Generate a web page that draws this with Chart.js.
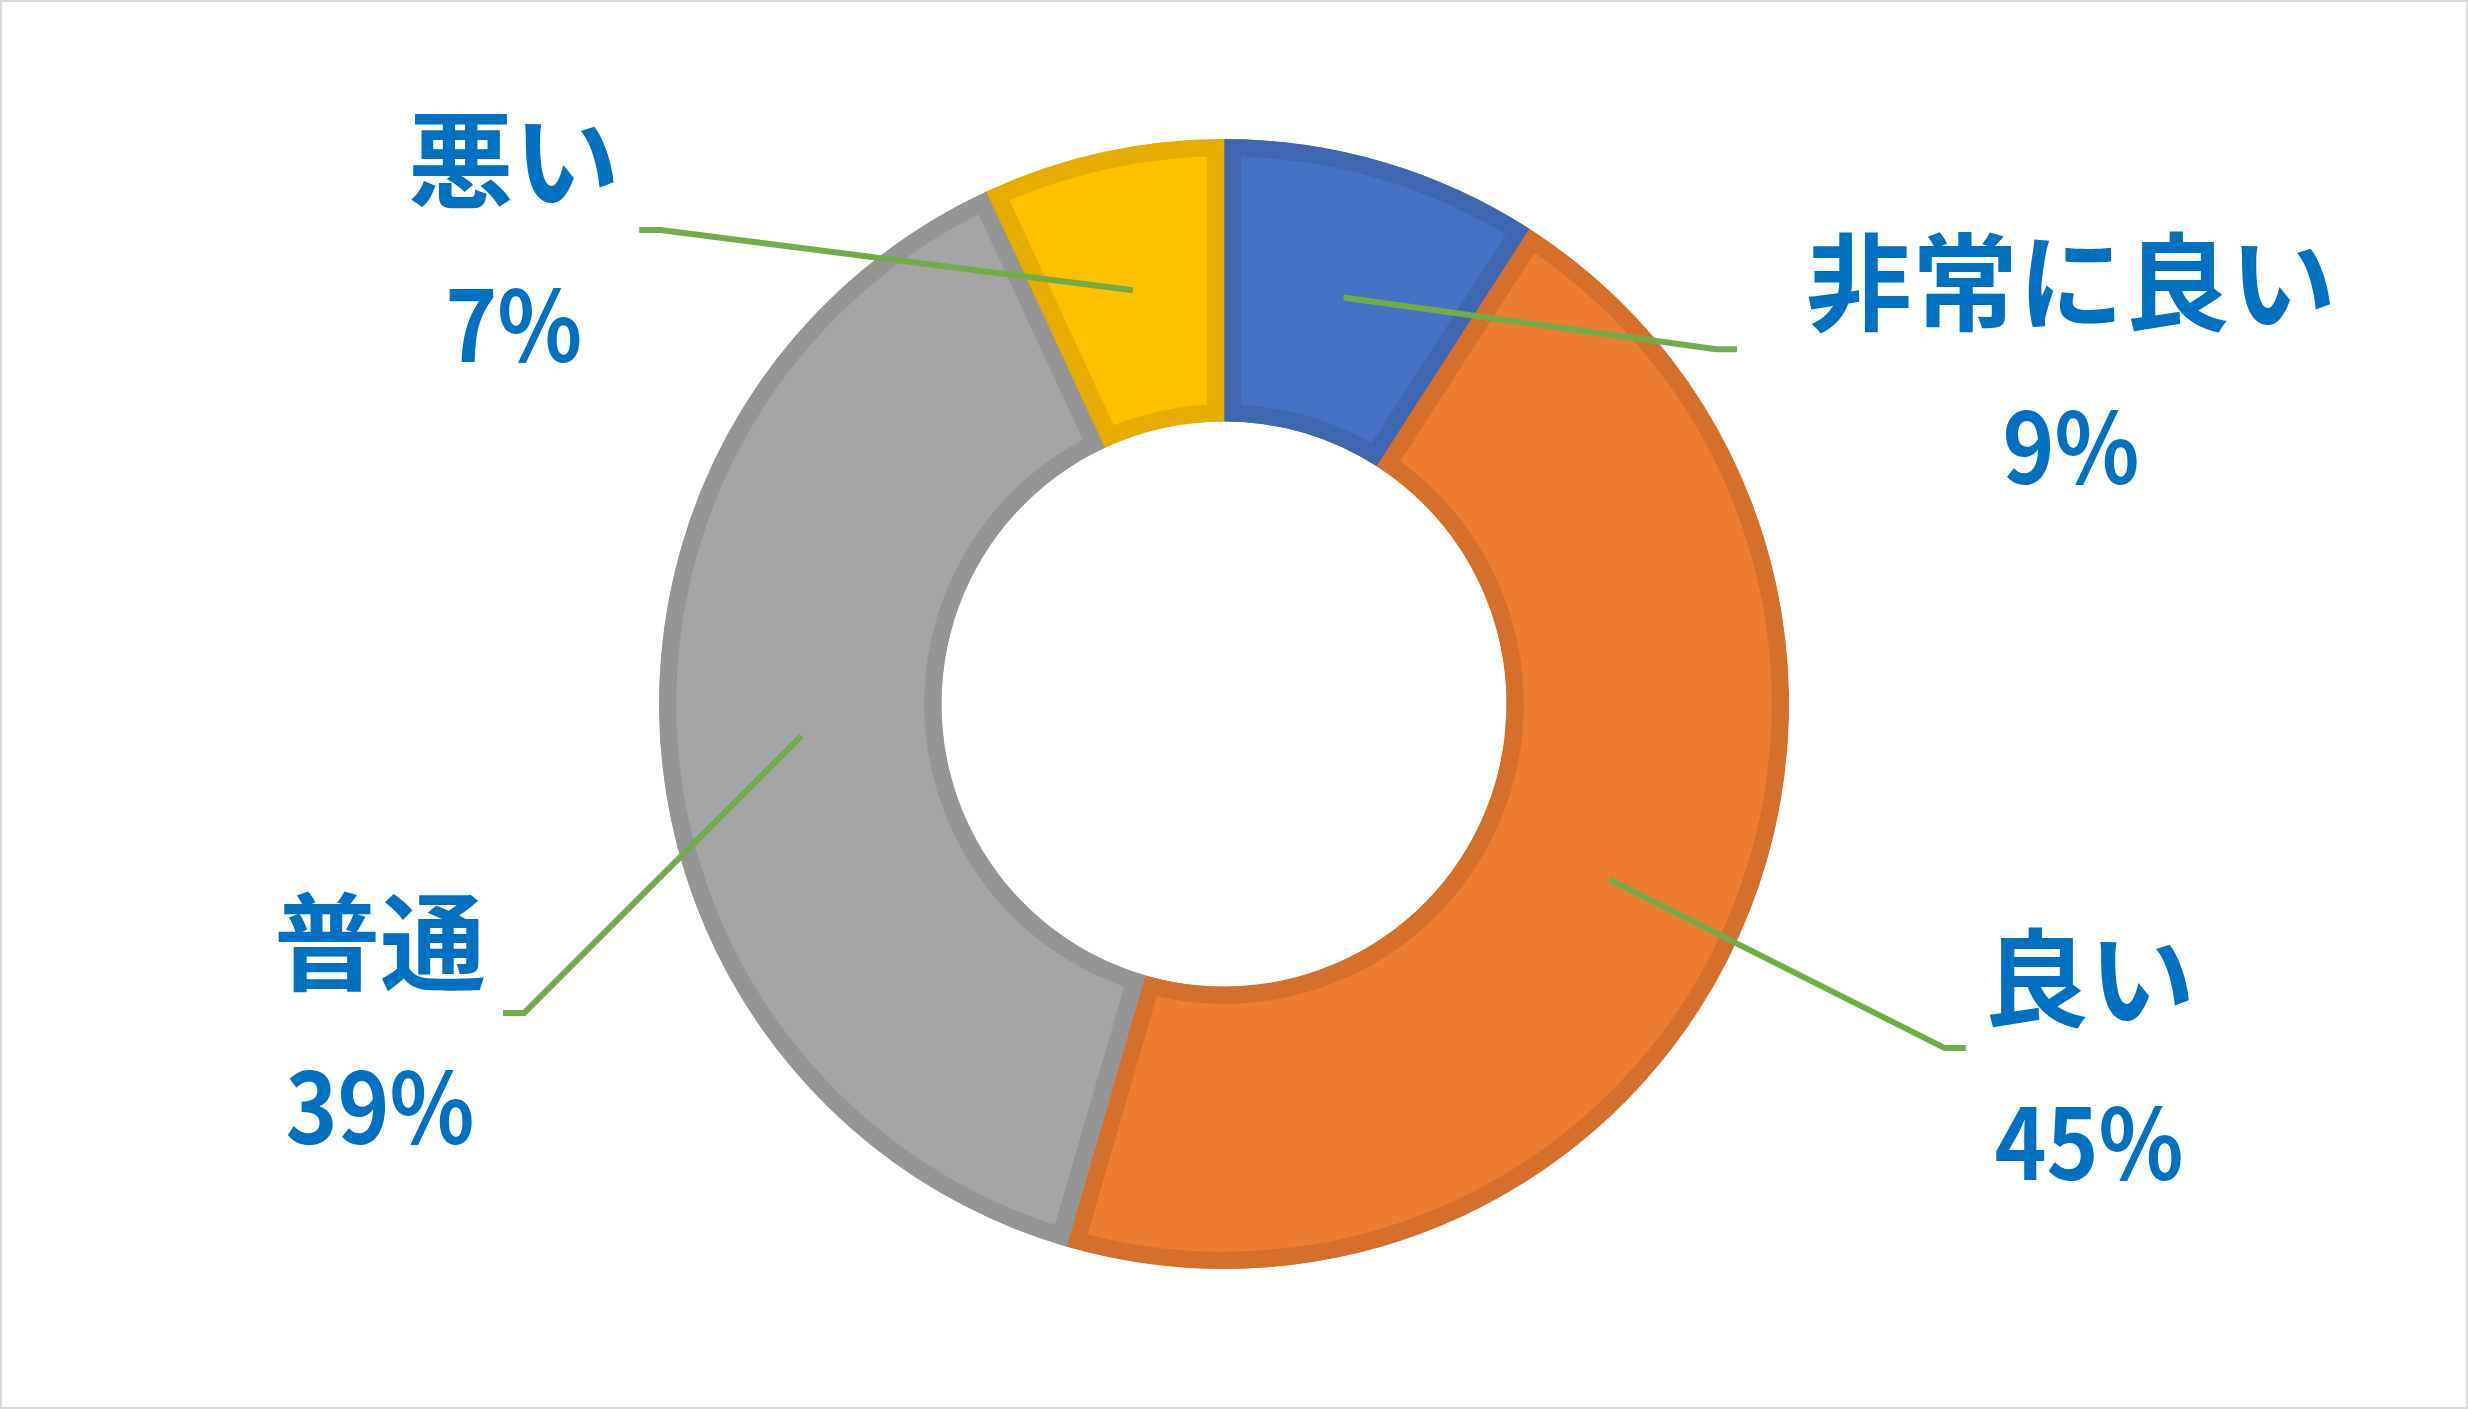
<!DOCTYPE html>
<html lang="ja">
<head>
<meta charset="utf-8">
<title>評価の割合</title>
<script src="https://cdn.jsdelivr.net/npm/chart.js@4.4.1/dist/chart.umd.min.js"></script>
<style>
    html, body { margin: 0; padding: 0; background: #fff; }
    canvas { display: block; }
</style>
</head>
<body>
<canvas id="myChart" width="2468" height="1409"></canvas>
<script>
const categories = ['非常に良い', '良い', '普通', '悪い'];
const values = [9.1, 45.4, 38.6, 6.9];   // shares
const fillColors = ['#4472C4', '#ED7D31', '#A5A5A5', '#FFC000'];
const edgeColors = ['#3D67B0', '#D5702C', '#959595', '#E6AD00'];

// label block centre and leader-line end, in outer-radius units from the doughnut centre
const labelCenters = [[1.499, -0.600], [1.531, 0.632], [-1.494, 0.568], [-1.257, -0.816]];
const leaderEnds = [[0.908, -0.628], [1.313, 0.609], [-1.276, 0.547], [-1.035, -0.839]];

const nameFont = 'bold 106px "Noto Sans CJK JP", "Noto Sans", sans-serif';
const pctFont = 'bold 98px "Noto Sans CJK JP", "Noto Sans", sans-serif';

// white background + thin grey frame like the original slide
const frame = {
    id: 'frame',
    beforeDraw(chart) {
        const ctx = chart.ctx;
        ctx.save();
        ctx.fillStyle = '#fff';
        ctx.fillRect(0, 0, chart.width, chart.height);
        ctx.restore();
    },
    afterDraw(chart) {
        const ctx = chart.ctx;
        ctx.save();
        ctx.strokeStyle = '#D9D9D9';
        ctx.lineWidth = 2;
        ctx.strokeRect(1, 1, chart.width - 2, chart.height - 2);
        ctx.restore();
    }
};

// data labels with green leader lines
const calloutLabels = {
    id: 'calloutLabels',
    afterDatasetsDraw(chart) {
        const ctx = chart.ctx;
        const meta = chart.getDatasetMeta(0);
        const total = values.reduce((a, b) => a + b, 0);

        meta.data.forEach((arc, i) => {
            const R = arc.outerRadius;
            const start = arc.getCenterPoint();
            const end = { x: arc.x + leaderEnds[i][0] * R, y: arc.y + leaderEnds[i][1] * R };
            const side = leaderEnds[i][0] > 0 ? 1 : -1;
            const elbow = { x: end.x - side * 21, y: end.y };

            ctx.save();
            ctx.strokeStyle = '#70AD47';
            ctx.lineWidth = 6;
            ctx.lineJoin = 'miter';
            ctx.beginPath();
            ctx.moveTo(start.x, start.y);
            ctx.lineTo(elbow.x, elbow.y);
            ctx.lineTo(end.x, end.y);
            ctx.stroke();

            const tx = arc.x + labelCenters[i][0] * R;
            const ty = arc.y + labelCenters[i][1] * R;
            ctx.fillStyle = '#0070C0';
            ctx.textAlign = 'center';
            ctx.font = nameFont;
            ctx.textBaseline = 'middle';
            ctx.fillText(categories[i], tx, ty - 83);

            // percentage line, slightly condensed like the Calibri original
            ctx.font = pctFont;
            ctx.textBaseline = 'alphabetic';
            ctx.translate(tx, ty + 119);
            ctx.scale(0.9, 1);
            ctx.fillText(Math.round(values[i] / total * 100) + '%', 0, 0);
            ctx.restore();
        });
    }
};

function drawChart() {
    const ctx = document.getElementById('myChart').getContext('2d');
    new Chart(ctx, {
        type: 'doughnut',
        data: {
            labels: categories,
            datasets: [{
                data: values,
                backgroundColor: fillColors,
                borderColor: edgeColors,
                borderWidth: 17,
                borderAlign: 'inner',
                borderJoinStyle: 'miter',
                offset: 0,
                hoverOffset: 0
            }]
        },
        options: {
            responsive: false,
            devicePixelRatio: 1,
            animation: false,
            events: [],
            cutout: '50%',
            rotation: 0,
            layout: {
                padding: { left: 659, right: 679, top: 139, bottom: 140 }
            },
            plugins: {
                legend: { display: false },
                tooltip: { enabled: false }
            }
        },
        plugins: [frame, calloutLabels]
    });
}

if (document.fonts && document.fonts.load) {
    Promise.all([
        document.fonts.load(nameFont, '非常に良い悪普通'),
        document.fonts.load(pctFont, '0123456789%')
    ]).then(drawChart, drawChart);
} else {
    drawChart();
}
</script>
</body>
</html>
